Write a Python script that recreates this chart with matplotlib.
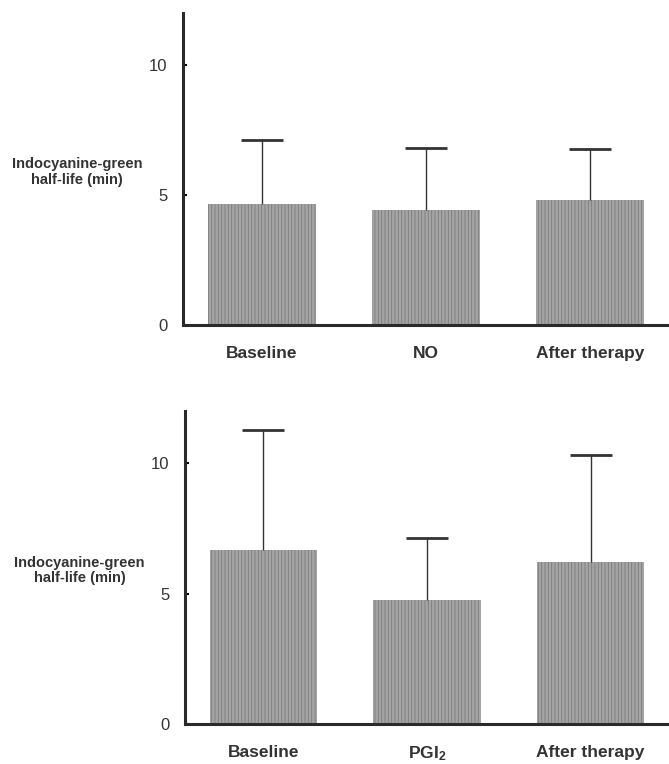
import matplotlib
matplotlib.use("Agg")
import matplotlib.pyplot as plt
import numpy as np

plt.rcParams['font.family'] = ['Liberation Sans', 'DejaVu Sans']
plt.rcParams['hatch.linewidth'] = 0.6

cats_top = ["Baseline", "NO", "After therapy"]
means_top = [4.65, 4.42, 4.80]
sd_top = [2.48, 2.40, 1.98]

cats_bot = ["Baseline", r"$\mathregular{PGI_2}$", "After therapy"]
means_bot = [6.68, 4.77, 6.20]
sd_bot = [4.60, 2.35, 4.10]

yticks = [0, 5, 10]
ylabel = "Indocyanine-green\nhalf-life (min)"

fig = plt.figure(figsize=(6.69, 7.64), dpi=100)
ax1 = fig.add_axes([0.2735, 0.5746, 0.7265, 0.4084])
ax2 = fig.add_axes([0.2765, 0.0524, 0.7235, 0.4097])

def draw(ax, cats, means, sds, ylab_y):
    x = np.arange(len(cats))
    ax.bar(x, means, width=0.66, color='#a4a4a4', edgecolor='#7c7c7c',
           linewidth=0, hatch='|||||', zorder=2)
    eb = ax.errorbar(x, means, yerr=[np.zeros(len(sds)), sds], fmt='none',
                     ecolor='#333333', elinewidth=1.0, capsize=15, capthick=2.0,
                     zorder=3)
    caps = eb[1]
    if len(caps) == 2:
        caps[0].set_visible(False)
    ax.set_xlim(-0.48, 2.48)
    ax.set_ylim(0, 12)
    ax.set_yticks(yticks)
    ax.set_yticklabels([str(t) for t in yticks], fontsize=12, color='#333333')
    ax.set_xticks(x)
    ax.set_xticklabels(cats, fontsize=12.5, fontweight='bold', color='#333333')
    ax.tick_params(axis='x', length=0, pad=15)
    ax.tick_params(axis='y', direction='in', length=3, width=1.5, pad=11)
    for s in ['top', 'right']:
        ax.spines[s].set_visible(False)
    for s in ['left', 'bottom']:
        ax.spines[s].set_linewidth(2.2)
        ax.spines[s].set_color('#2a2a2a')
    ax.text(-0.218, ylab_y, ylabel, transform=ax.transAxes, ha='center',
            va='center', fontsize=10.5, fontweight='bold', color='#333333',
            linespacing=1.15)

draw(ax1, cats_top, means_top, sd_top, 0.49)
draw(ax2, cats_bot, means_bot, sd_bot, 0.49)

fig.savefig("out.png", dpi=100)
